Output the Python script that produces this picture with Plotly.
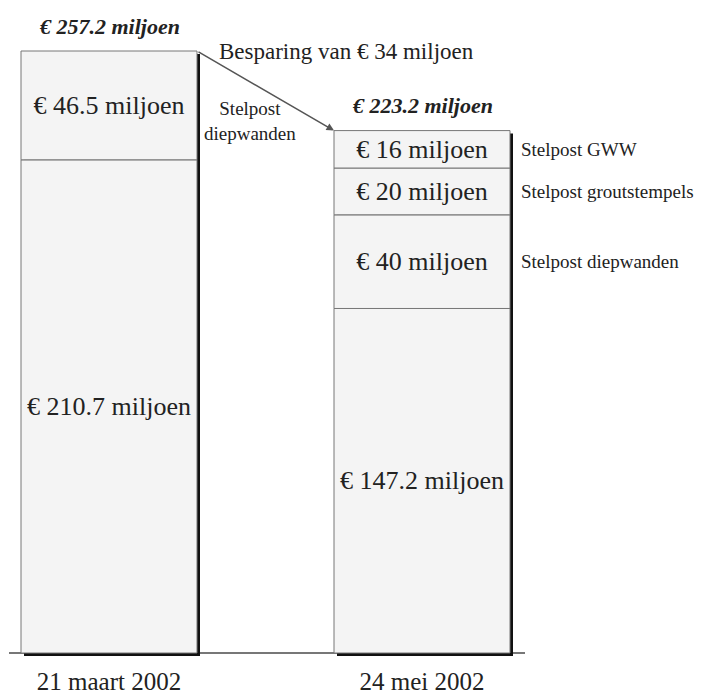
import numpy as np
import plotly.graph_objects as go

# data (miljoen euro)
dates = ["21 maart 2002", "24 mei 2002"]
segments_march = [210.7, 46.5]
segments_may = [147.2, 40, 20, 16]
stelpost_may = ["", "Stelpost diepwanden", "Stelpost groutstempels", "Stelpost GWW"]
stelpost_march = "Stelpost<br>diepwanden"

FONT = "Liberation Serif"
TXT = "#222222"

# layout geometry in pixels
W, H = 702, 697
Y_PX = 602 / 257.2          # pixels per miljoen
X_PX = 313                  # pixels per category step
BAR_W = 176 / X_PX
SHADOW_DX = 3 / X_PX
SHADOW_DY = 3 / Y_PX
M_L, M_R, M_T, M_B = 9, 177, 0, 41

totals = [sum(segments_march), sum(segments_may)]
all_segments = [segments_march, segments_may]

fig = go.Figure()

# drop shadow behind each bar
fig.add_trace(go.Bar(
    x=dates, y=totals, base=[-SHADOW_DY] * 2,
    width=BAR_W, offset=-BAR_W / 2 + SHADOW_DX,
    marker=dict(color="#111111", line=dict(width=0)),
    hoverinfo="skip", showlegend=False,
))

for d, segs in zip(dates, all_segments):
    segs = np.array(segs, dtype=float)
    bases = np.cumsum(segs) - segs
    fig.add_trace(go.Bar(
        x=[d] * len(segs), y=segs, base=bases,
        width=BAR_W,
        marker=dict(color="#f4f4f4", line=dict(color="#777777", width=1)),
        text=[f"€ {v:g} miljoen" for v in segs],
        textposition="inside", insidetextanchor="middle",
        textangle=0, constraintext="none",
        insidetextfont=dict(family=FONT, size=26, color=TXT),
        hoverinfo="skip", showlegend=False,
    ))

ann = []
for i, t in enumerate(totals):
    ann.append(dict(
        x=i, y=t, xref="x", yref="y", showarrow=False,
        text=f"<b><i>€ {t:.1f} miljoen</i></b>",
        font=dict(family=FONT, size=22, color=TXT),
        yanchor="middle", yshift=25,
    ))

# savings arrow from top of left bar to top of right bar
ann.append(dict(
    x=1 - BAR_W / 2, y=totals[1], xref="x", yref="y",
    ax=BAR_W / 2, ay=totals[0], axref="x", ayref="y",
    text="", showarrow=True, arrowhead=2, arrowsize=1,
    arrowwidth=1.5, arrowcolor="#555555", standoff=0,
))
ann.append(dict(
    x=0.76, y=totals[0], xref="x", yref="y", showarrow=False,
    text=f"Besparing van € {totals[0] - totals[1]:.0f} miljoen",
    font=dict(family=FONT, size=23, color=TXT),
))
ann.append(dict(
    x=0.45, y=227.3, xref="x", yref="y", showarrow=False,
    text=stelpost_march,
    font=dict(family=FONT, size=19, color=TXT),
))

segs = np.array(segments_may, dtype=float)
mids = np.cumsum(segs) - segs / 2
for lab, m in zip(stelpost_may, mids):
    if not lab:
        continue
    ann.append(dict(
        x=1 + BAR_W / 2, y=m, xref="x", yref="y", showarrow=False,
        text=lab, xanchor="left", xshift=9,
        font=dict(family=FONT, size=19, color=TXT),
    ))

plot_w = W - M_L - M_R
plot_h = H - M_T - M_B
x0 = -100 / X_PX
fig.update_layout(
    width=W, height=H,
    margin=dict(l=M_L, r=M_R, t=M_T, b=M_B, pad=0, autoexpand=False),
    barmode="overlay",
    paper_bgcolor="white", plot_bgcolor="white",
    annotations=ann,
    xaxis=dict(
        type="category", range=[x0, x0 + plot_w / X_PX],
        showgrid=False, showline=False, zeroline=False,
        ticks="outside", ticklen=3, tickcolor="rgba(0,0,0,0)",
        tickfont=dict(family=FONT, size=25, color=TXT),
        automargin=False, fixedrange=True,
    ),
    yaxis=dict(
        range=[-SHADOW_DY, -SHADOW_DY + plot_h / Y_PX],
        showgrid=False, showticklabels=False, showline=False,
        zeroline=True, zerolinecolor="#777777", zerolinewidth=1.5,
        automargin=False, fixedrange=True,
    ),
    showlegend=False,
)

fig.write_html(
    "out.html",
    config={"displayModeBar": False},
    post_script="document.body.style.margin='0';",
)
